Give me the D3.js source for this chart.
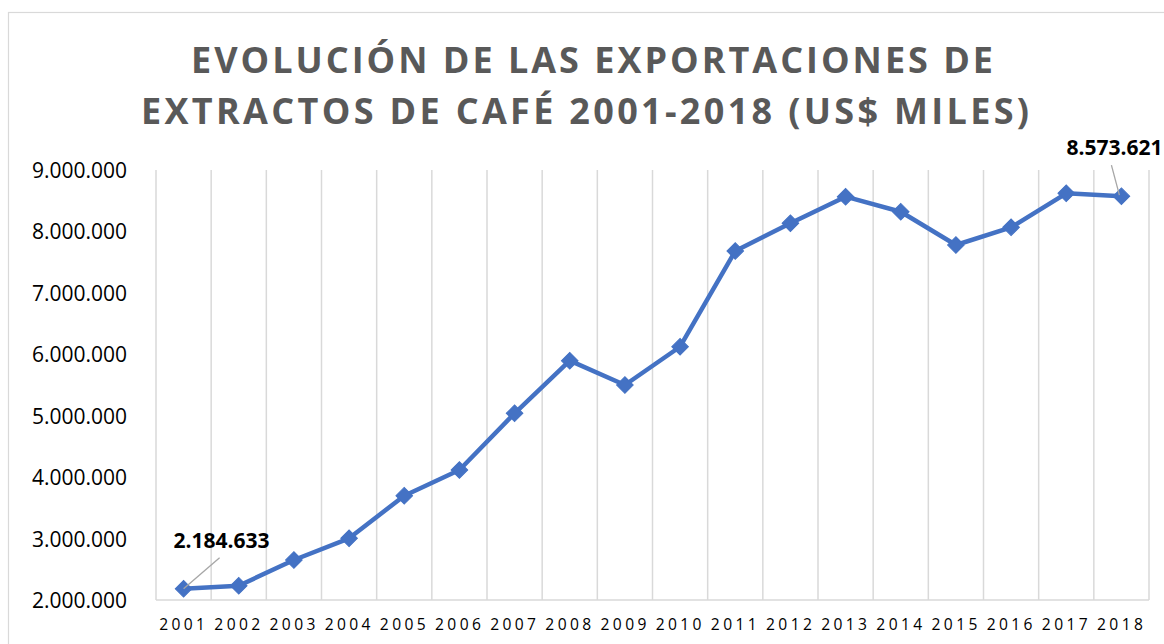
<!DOCTYPE html>
<html>
<head>
<meta charset="utf-8">
<script src="https://cdn.jsdelivr.net/npm/d3@7"></script>
<style>
  html, body { margin: 0; padding: 0; background: #fff; }
  svg { display: block; }
</style>
</head>
<body>
<svg id="chart" width="1164" height="644"></svg>
<script>
const years = ["2001","2002","2003","2004","2005","2006","2007","2008","2009","2010","2011","2012","2013","2014","2015","2016","2017","2018"];
const exportsValues = [2184633, 2233000, 2651000, 3004000, 3698000, 4116000, 5039000, 5896000, 5500000, 6123000, 7681000, 8132000, 8566000, 8321000, 7779000, 8067000, 8620000, 8573621];
const yTicks = [2000000, 3000000, 4000000, 5000000, 6000000, 7000000, 8000000, 9000000];
const titleLines = ["EVOLUCIÓN DE LAS EXPORTACIONES DE", "EXTRACTOS DE CAFÉ 2001-2018 (US$ MILES)"];
const annotatedIdx = [0, 17];

(function () {
const svg = d3.select("#chart");
const fmt = v => d3.format(",")(v).replace(/,/g, ".");

svg.append("rect").attr("x", 8.5).attr("y", 12.5).attr("width", 1170).attr("height", 650)
  .attr("fill", "#fff").attr("stroke", "#d9d9d9").attr("stroke-width", 1.2);

const pLeft = 156, pRight = 1149, pTop = 170, pBottom = 600;
const x = d3.scaleBand().domain(years).range([pLeft, pRight]).padding(0);
const y = d3.scaleLinear().domain([2000000, 9000000]).range([pBottom, pTop]);

// title
const titleG = svg.append("g");
const titleSpec = [{base: 72.5, width: 802, start: 191}, {base: 124, width: 888, start: 141}];
titleLines.forEach((t, i) => {
  const el = titleG.append("text")
    .attr("x", titleSpec[i].start).attr("y", titleSpec[i].base)
    .attr("text-anchor", "start")
    .attr("font-family", "Open Sans, sans-serif").attr("font-weight", "bold")
    .attr("font-size", 36).attr("fill", "#595959")
    .text(t);
  const n = t.length;
  const w0 = el.node().getComputedTextLength();
  const ls = (titleSpec[i].width - w0) / (n - 1);
  el.attr("letter-spacing", ls);
});

// vertical gridlines at band boundaries
const bounds = years.map(d => x(d)).concat([pRight]);
svg.append("g").selectAll("line").data(bounds).join("line")
  .attr("x1", d => d).attr("x2", d => d)
  .attr("y1", pTop).attr("y2", pBottom)
  .attr("stroke", "#d9d9d9").attr("stroke-width", 1.5);

svg.append("line").attr("x1", pLeft).attr("x2", pRight).attr("y1", pBottom).attr("y2", pBottom)
  .attr("stroke", "#d9d9d9").attr("stroke-width", 1.5);

// y axis labels
const yAxis = d3.axisLeft(y).tickValues(yTicks).tickFormat(fmt).tickSize(0).tickPadding(0);
const yg = svg.append("g").attr("transform", "translate(127,0)").call(yAxis);
yg.select(".domain").remove();
yg.selectAll("text").attr("font-family", "Open Sans, sans-serif").attr("font-size", 21)
  .attr("fill", "#000").attr("dy", "0.36em");

// x axis labels
const xLs = 3.4;
const xAxis = d3.axisBottom(x).tickSize(0).tickPadding(0);
const xg = svg.append("g").attr("transform", "translate(0,630)").call(xAxis);
xg.select(".domain").remove();
xg.selectAll("text").attr("font-family", "Open Sans, sans-serif").attr("font-size", 15.6)
  .attr("fill", "#000").attr("letter-spacing", xLs).attr("dy", 0).attr("x", xLs / 2 - 1.5);

// line
const cx = d => x(d) + x.bandwidth() / 2;
const data = years.map((d, i) => ({year: d, value: exportsValues[i]}));
svg.append("path").datum(data)
  .attr("fill", "none").attr("stroke", "#4472C4").attr("stroke-width", 4.5)
  .attr("stroke-linejoin", "round")
  .attr("d", d3.line().x(d => cx(d.year)).y(d => y(d.value)));

svg.append("g").selectAll("path").data(data).join("path")
  .attr("transform", d => `translate(${cx(d.year)},${y(d.value)}) rotate(45)`)
  .attr("d", d3.symbol().type(d3.symbolSquare).size(138))
  .attr("fill", "#4472C4").attr("stroke", "#4472C4").attr("stroke-width", 1);

// data labels with leader lines
const annG = svg.append("g");
const annOffsets = [
  {lx1: 36, ly1: -31, lx2: 0, ly2: 0, tx: -10, ty: -41},
  {lx1: -10, ly1: -31, lx2: -2, ly2: -1, tx: -55, ty: -41}
];
annotatedIdx.forEach((idx, k) => {
  const d = data[idx];
  const px = cx(d.year), py = y(d.value);
  const o = annOffsets[k];
  annG.append("line")
    .attr("x1", px + o.lx1).attr("y1", py + o.ly1)
    .attr("x2", px + o.lx2).attr("y2", py + o.ly2)
    .attr("stroke", "#a6a6a6").attr("stroke-width", 1.3);
  annG.append("text")
    .attr("x", px + o.tx).attr("y", py + o.ty)
    .attr("font-family", "Open Sans, sans-serif").attr("font-weight", "bold")
    .attr("font-size", 21).attr("fill", "#000")
    .text(fmt(d.value));
});
})();
</script>
</body>
</html>
